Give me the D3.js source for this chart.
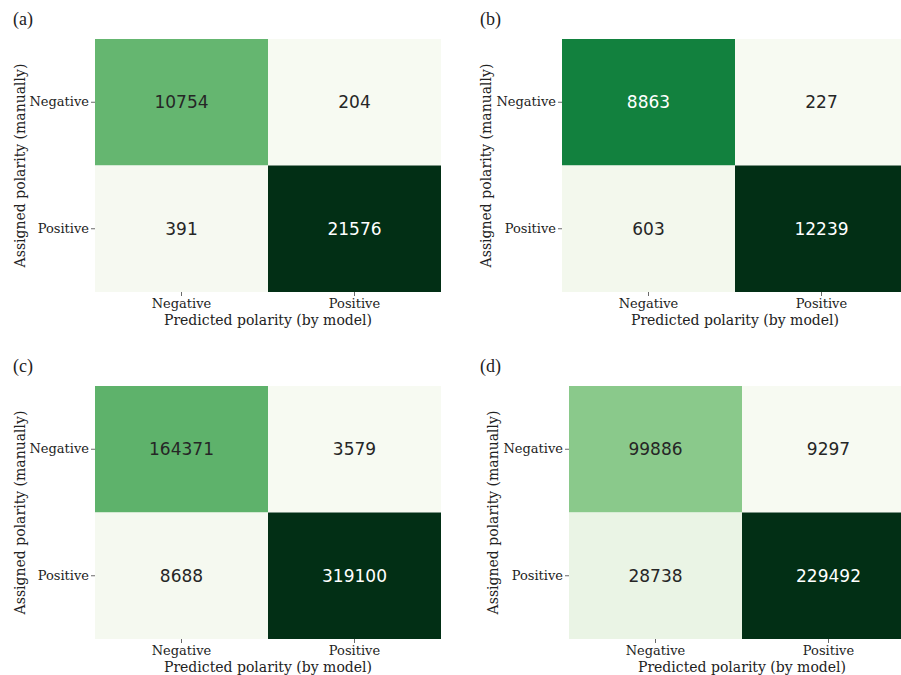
<!DOCTYPE html>
<html>
<head>
<meta charset="utf-8">
<script src="https://cdn.jsdelivr.net/npm/d3@7"></script>
<style>
  html, body { margin: 0; padding: 0; background: #ffffff; }
  svg { display: block; }
</style>
</head>
<body>
<svg id="chart" width="901" height="675"></svg>
<script>
// ---- data ----
const predictedCategories = ["Negative", "Positive"];
const assignedCategories = ["Negative", "Positive"];
const panelLabels = ["(a)", "(b)", "(c)", "(d)"];
const matrixA = [[10754, 204], [391, 21576]];
const matrixB = [[8863, 227], [603, 12239]];
const matrixC = [[164371, 3579], [8688, 319100]];
const matrixD = [[99886, 9297], [28738, 229492]];
const xTitle = "Predicted polarity (by model)";
const yTitle = "Assigned polarity (manually)";

// ---- layout (positions only) ----
const layouts = [
  { left: 95,  top: 39,  label: [13, 25],  yTitleX: 20 },
  { left: 562, top: 39,  label: [480, 25], yTitleX: 486 },
  { left: 95,  top: 386, label: [13, 372], yTitleX: 20 },
  { left: 569, top: 386, label: [480, 372], yTitleX: 493 }
];
const matrices = [matrixA, matrixB, matrixC, matrixD];
const W = 346, H = 253;

const greens = d3.interpolateRgbBasis([
  "#f7faf2", "#e6f1e0", "#c8e6c1", "#9dd299", "#60b46b",
  "#2e984d", "#057a39", "#035824", "#022f15"
]);

function luminance(c) {
  const rgb = d3.rgb(c);
  const f = v => { v /= 255; return v <= 0.03928 ? v / 12.92 : Math.pow((v + 0.055) / 1.055, 2.4); };
  return 0.2126 * f(rgb.r) + 0.7152 * f(rgb.g) + 0.0722 * f(rgb.b);
}

const svg = d3.select("#chart");

matrices.forEach((m, i) => {
  const L = layouts[i];
  const g = svg.append("g").attr("transform", `translate(${L.left},${L.top})`);
  const x = d3.scaleBand().domain(predictedCategories).range([0, W]);
  const y = d3.scaleBand().domain(assignedCategories).range([0, H]);
  const flat = m.flat();
  const color = d3.scaleSequential(greens).domain([d3.min(flat), d3.max(flat)]);

  const cells = [];
  assignedCategories.forEach((a, r) => predictedCategories.forEach((p, c) => {
    cells.push({ a, p, v: m[r][c] });
  }));

  g.selectAll("rect.cell").data(cells).enter().append("rect")
    .attr("class", "cell")
    .attr("x", d => x(d.p))
    .attr("y", d => y(d.a))
    .attr("width", x.bandwidth())
    .attr("height", y.bandwidth())
    .attr("fill", d => color(d.v));

  g.selectAll("text.ann").data(cells).enter().append("text")
    .attr("class", "ann")
    .attr("x", d => x(d.p) + x.bandwidth() / 2)
    .attr("y", d => y(d.a) + y.bandwidth() / 2)
    .attr("text-anchor", "middle")
    .attr("dominant-baseline", "central")
    .attr("font-family", "DejaVu Sans, sans-serif")
    .attr("font-size", 17)
    .attr("fill", d => luminance(color(d.v)) > 0.25 ? "#262626" : "#ffffff")
    .text(d => d.v);

  // axes
  const xAxis = g.append("g").attr("transform", `translate(0,${H})`)
    .call(d3.axisBottom(x).tickSize(4).tickPadding(3));
  const yAxis = g.append("g")
    .call(d3.axisLeft(y).tickSize(4).tickPadding(2));
  [xAxis, yAxis].forEach(ax => {
    ax.select(".domain").remove();
    ax.selectAll(".tick line").attr("stroke", "#444").attr("stroke-width", 0.8);
    ax.selectAll(".tick text")
      .attr("font-family", "DejaVu Serif, serif")
      .attr("font-size", 13)
      .attr("fill", "#222");
  });

  // axis titles
  g.append("text")
    .attr("x", W / 2)
    .attr("y", H + 33)
    .attr("text-anchor", "middle")
    .attr("font-family", "DejaVu Serif, serif")
    .attr("font-size", 14)
    .attr("fill", "#222")
    .text(xTitle);

  svg.append("text")
    .attr("transform", `translate(${L.yTitleX},${L.top + H / 2}) rotate(-90)`)
    .attr("text-anchor", "middle")
    .attr("dominant-baseline", "central")
    .attr("font-family", "DejaVu Serif, serif")
    .attr("font-size", 14)
    .attr("fill", "#222")
    .text(yTitle);

  svg.append("text")
    .attr("x", L.label[0])
    .attr("y", L.label[1])
    .attr("font-family", "Liberation Serif, serif")
    .attr("font-size", 18)
    .attr("fill", "#222")
    .text(panelLabels[i]);
});
</script>
</body>
</html>
